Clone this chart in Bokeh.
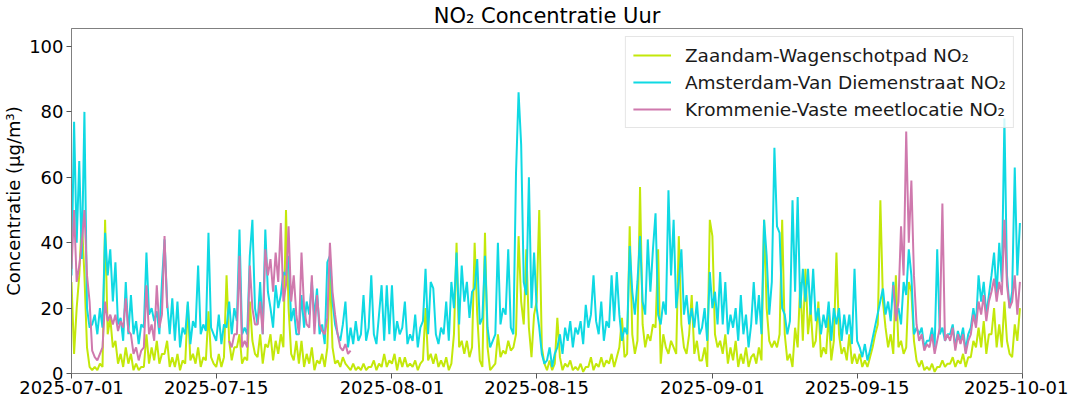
import numpy as np
import pandas as pd
from bokeh.plotting import figure
from bokeh.models import Range1d, FixedTicker, DatetimeTickFormatter, ColumnDataSource
from bokeh.embed import file_html
from bokeh.resources import INLINE

# ---------------- data (6-hourly readings) ----------------
START = "2025-07-01 00:00"
STEP = "6h"
X_START = "2025-07-01"
X_END = "2025-10-01"
TICK_DATES = ["2025-07-01", "2025-07-15", "2025-08-01", "2025-08-15",
              "2025-09-01", "2025-09-15", "2025-10-01"]
Y_TICKS = [0, 20, 40, 60, 80, 100]

NAMES = ["Zaandam-Wagenschotpad NO₂", "Amsterdam-Van Diemenstraat NO₂",
         "Krommenie-Vaste meetlocatie NO₂"]
COLORS = ["#c3e80a", "#0fd9e3", "#cf79ad"]

ZAANDAM = [
    28, 6, 20, 30,   47, 30, 8, 2,    1, 2, 1, 3,      2, 47, 12, 17,
    8, 10, 3, 6,     2, 8, 3, 6,      1, 3, 1, 2,      2, 12, 3, 8,
    4, 10, 3, 6,     6, 10, 2, 5,     2, 6, 1, 4,      3, 21, 4, 6,
    3, 8, 2, 5,      4, 19, 5, 3,     2, 6, 2, 5,      30, 10, 4, 8,
    8, 12, 3, 5,     4, 22, 10, 6,    5, 12, 3, 9,     8, 12, 4, 10,
    6, 12, 8, 50,    20, 6, 4, 10,    3, 10, 2, 6,     3, 8, 1, 4,
    3, 6, 2, 8,      32, 8, 3, 4,     2, 5, 3, 2,      1, 3, 1, 2,
    1, 3, 1, 2,      2, 4, 1, 3,      2, 6, 2, 4,      3, 6, 1, 5,
    2, 5, 2, 3,      2, 4, 1, 3,      4, 20, 4, 6,     3, 6, 2, 4,
    2, 5, 1, 3,      12, 40, 8, 10,   6, 10, 5, 8,     40, 18, 4, 2,
    43, 8, 1, 2,     3, 12, 5, 7,     6, 10, 7, 8,     12, 42, 22, 15,
    38, 14, 5, 18,   22, 50, 8, 3,    1, 4, 1, 3,      17, 5, 1, 3,
    2, 4, 1, 2,      1, 3, 0.5, 2,    2, 5, 1, 3,      2, 5, 2, 4,
    3, 6, 2, 5,      8, 17, 5, 6,     45, 12, 6, 10,   57, 15, 8, 12,
    10, 15, 14, 38,  3, 12, 8, 6,     10, 8, 6, 42,    15, 8, 6, 12,
    24, 6, 10, 4,    4, 8, 2, 47,     42, 12, 8, 10,   6, 12, 3, 8,
    4, 10, 2, 6,     3, 8, 2, 5,      6, 3, 8, 4,      47, 20, 10, 8,
    10, 8, 12, 47,   12, 4, 6, 2,     14, 8, 28, 10,   32, 12, 20, 8,
    10, 22, 5, 8,    6, 18, 4, 10,    37, 12, 6, 8,    4, 12, 3, 6,
    3, 6, 2, 4,      2, 5, 8, 12,     15, 53, 22, 14,  8, 12, 6, 30,
    8, 10, 6, 8,     28, 25, 10, 4,   2, 4, 1, 2,      1, 3, 0.5, 2,
    2, 4, 2, 3,      3, 5, 2, 4,      3, 6, 2, 5,      5, 10, 8, 14,
    8, 16, 6, 12,    12, 20, 8, 15,   8, 22, 10, 6,    5, 15, 10, 20,
]

AMSTERDAM = [
    30, 77, 40, 65,  35, 80, 20, 14,  15, 18, 12, 20,  14, 43, 30, 38,
    22, 34, 15, 17,  10, 28, 12, 24,  12, 16, 9, 15,   14, 37, 18, 20,
    16, 19, 12, 28,  41, 22, 12, 23,  10, 22, 8, 14,   12, 22, 9, 16,
    14, 33, 12, 15,  13, 43, 14, 12,  10, 18, 9, 15,   14, 22, 12, 20,
    16, 44, 12, 14,  12, 36, 47, 20,  15, 28, 12, 44,  25, 20, 14, 27,
    20, 24, 31, 30,  36, 16, 20, 12,  12, 24, 14, 22,  18, 28, 17, 26,
    12, 15, 9, 34,   36, 22, 15, 12,  10, 15, 22, 8,   14, 9, 16, 10,
    12, 24, 10, 14,  30, 12, 9, 18,   27, 10, 27, 12,  27, 10, 16, 12,
    14, 22, 9, 12,   10, 18, 8, 14,   16, 32, 12, 28,  26, 12, 9, 14,
    12, 22, 10, 28,  20, 37, 15, 33,  22, 28, 17, 25,  26, 35, 15, 17,
    36, 14, 8, 10,   12, 40, 15, 20,  18, 38, 14, 12,  61, 86, 70, 28,
    24, 60, 20, 37,  20, 14, 6, 3,    4, 8, 2, 6,      8, 12, 6, 14,
    10, 16, 8, 14,   12, 16, 9, 21,   14, 18, 30, 16,  12, 22, 10, 16,
    14, 30, 16, 31,  18, 10, 14, 12,  39, 25, 18, 28,  42, 22, 18, 41,
    25, 38, 49, 18,  15, 22, 18, 56,  30, 47, 20, 28,  38, 18, 24, 15,
    20, 14, 22, 12,  14, 20, 10, 31,  20, 25, 15, 31,  15, 28, 12, 18,
    14, 20, 10, 24,  12, 18, 8, 15,   28, 15, 24, 12,  47, 36, 18, 28,
    69, 45, 43, 20,  18, 12, 16, 53,  25, 54, 20, 32,  22, 32, 18, 32,
    16, 20, 12, 18,  14, 22, 10, 20,  15, 20, 10, 18,  12, 18, 9, 32,
    10, 8, 5, 9,     4, 7, None, None, None, None, 26, 18, 22, 16, 28, 18,
    20, 15, 28, 24,  38, 30, 12, 14,  12, 14, 8, 10,   10, 14, 8, 38,
    12, 14, 10, 12,  12, 15, 8, 13,   10, 14, 7, 12,   14, 20, 15, 30,
    22, 28, 18, 24,  30, 37, 24, 40,  28, 78, 30, 20,  25, 63, 30, 46,
]

KROMMENIE = (
    [32, 50, 28, 33,  40, 50, 30, 22,  7, 5, 4, 6,     8, 22, 16, 18,
     15, 18, 13, 16,  14, 23, 13, 12,  6, 8, 4, 7,     8, 27, 12, 15,
     10, 27, 14, 18,  42, 20]
    + [None] * 23
    + [10, 8, 12,
       12, 36, 8, 10,  8, 33, 20, 15,  15, 22, 12, 38,  30, 35, 25, 37,
       28, 46, 22, 27, 45, 22, 30, 18, 12, 37, 20, 15,  14, 30, 12, 24,
       15, 13, 12, 17, 40, 25, 18, 12, 8, 7, 9, 6,      7]
    + [None] * 209
    + [27, 16,
       22, 45, 30, 74, 40, 59, 30, 15, 10, 12, 7, 9,    8, 12, 6, 10,
       14, 52, 10, 12, 10, 14, 7, 12,  9, 12, 6, 10,    12, 18, 14, 22,
       18, 24, 16, 22, 25, 29, 22, 28, 24, 47, 27, 20,  22, 30, 18, 28]
)

# ---------------- build ----------------
FONT = "DejaVu Sans"
times = pd.date_range(START, periods=len(ZAANDAM), freq=STEP)


def ms(d):
    return pd.Timestamp(d).timestamp() * 1000.0


p = figure(width=1068, height=396, x_axis_type="datetime",
           output_backend="svg", toolbar_location=None,
           min_border_left=68, min_border_right=46,
           min_border_top=26, min_border_bottom=20,
           x_range=Range1d(ms(X_START), ms(X_END)),
           y_range=Range1d(0, 105.5))

series = [ZAANDAM, AMSTERDAM, KROMMENIE]
for i, vals in enumerate(series):
    arr = np.array([np.nan if v is None else v for v in vals], dtype=float)
    if i == 1:
        keep = ~np.isnan(arr)  # missing rows: line joins across the gap
        src = ColumnDataSource(dict(x=times[keep], y=arr[keep]))
    else:
        src = ColumnDataSource(dict(x=times, y=arr))
    p.line("x", "y", source=src, color=COLORS[i], line_width=2,
           legend_label=NAMES[i])

p.title.text = "NO₂ Concentratie Uur"
p.title.align = "center"
p.title.text_font = FONT
p.title.text_font_size = "21px"
p.title.text_font_style = "normal"
p.title.text_color = "#000000"
p.title.standoff = 2

p.xgrid.visible = False
p.ygrid.visible = False
p.outline_line_color = "#808080"
p.outline_line_width = 1

p.xaxis.ticker = FixedTicker(ticks=[ms(d) for d in TICK_DATES])
p.xaxis.formatter = DatetimeTickFormatter(
    milliseconds="%Y-%m-%d", seconds="%Y-%m-%d", minsec="%Y-%m-%d",
    minutes="%Y-%m-%d", hourmin="%Y-%m-%d", hours="%Y-%m-%d",
    days="%Y-%m-%d", months="%Y-%m-%d", years="%Y-%m-%d")
p.yaxis.ticker = FixedTicker(ticks=Y_TICKS)
p.yaxis.axis_label = "Concentratie (µg/m³)"

for ax in (p.xaxis, p.yaxis):
    ax.axis_line_color = "#808080"
    ax.major_tick_line_color = "#555555"
    ax.major_tick_out = 5
    ax.major_tick_in = 0
    ax.minor_tick_out = 0
    ax.minor_tick_in = 0
    ax.major_label_text_font = FONT
    ax.major_label_text_font_size = "18px"
    ax.major_label_text_color = "#000000"
    ax.axis_label_text_font = FONT
    ax.axis_label_text_font_size = "18px"
    ax.axis_label_text_font_style = "normal"
    ax.axis_label_text_color = "#000000"
    ax.major_label_standoff = 3
p.xaxis.major_label_standoff = 2
p.yaxis.axis_label_standoff = 2

lg = p.legend[0]
lg.location = "top_right"
lg.margin = 8
lg.padding = 7
lg.spacing = 5
lg.glyph_width = 38
lg.glyph_height = 22
lg.label_height = 22
lg.label_standoff = 14
lg.label_text_font = FONT
lg.label_text_font_size = "18.5px"
lg.label_text_color = "#1a1a1a"
lg.border_line_color = "#cccccc"
lg.border_line_width = 1
lg.background_fill_alpha = 0.8

open("out.html", "w").write(file_html(p, INLINE))
